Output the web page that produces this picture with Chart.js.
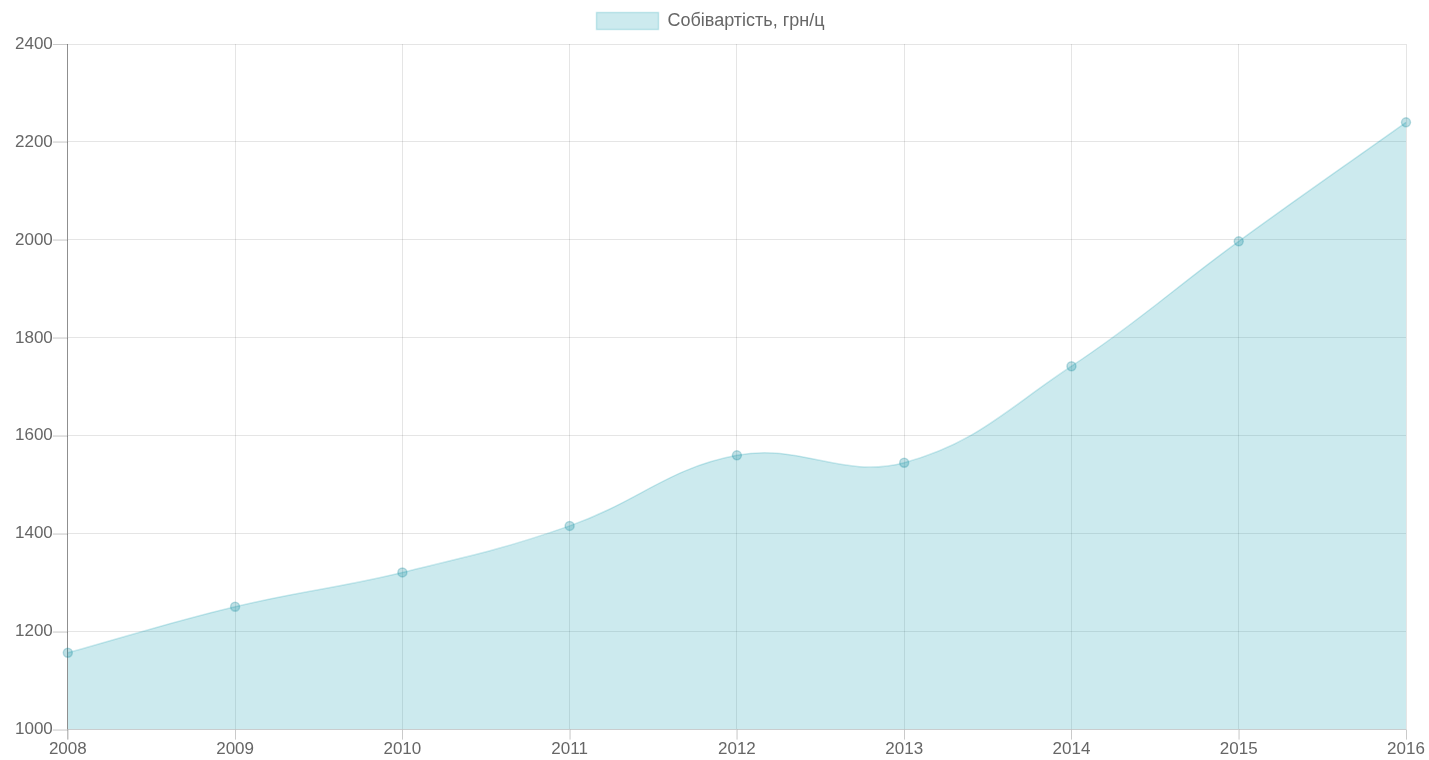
<!DOCTYPE html>
<html>
<head>
<meta charset="utf-8">
<script src="https://cdn.jsdelivr.net/npm/chart.js@4/dist/chart.umd.min.js"></script>
<style>
  html, body { margin: 0; padding: 0; background: #fff; }
  .chart-box { width: 1429px; height: 760px; }
</style>
</head>
<body>
<div class="chart-box"><canvas id="costChart"></canvas></div>
<script>
const years = ["2008", "2009", "2010", "2011", "2012", "2013", "2014", "2015", "2016"];
const costValues = [1157, 1251, 1321, 1416, 1560, 1545, 1742, 1997, 2240];
const seriesLabel = "Собівартість, грн/ц";

Chart.defaults.font.family = "'Helvetica Neue', Helvetica, Arial, 'Liberation Sans', sans-serif";
Chart.defaults.font.size = 17;
Chart.defaults.color = "#666";

// a little extra space under the legend
const legendMargin = {
  id: "legendMargin",
  beforeInit(chart) {
    const fit = chart.legend.fit;
    chart.legend.fit = function () {
      fit.bind(chart.legend)();
      this.height += 4;
    };
  },
};

// short tick marks outside the plot area, next to the labels
const tickMarks = {
  id: "tickMarks",
  afterDraw(chart) {
    const { ctx, chartArea, scales } = chart;
    ctx.save();
    ctx.strokeStyle = "rgba(0,0,0,0.12)";
    ctx.lineWidth = 1;
    ctx.beginPath();
    scales.x.ticks.forEach((t, i) => {
      const px = Math.round(scales.x.getPixelForTick(i)) + 0.5;
      ctx.moveTo(px, chartArea.bottom);
      ctx.lineTo(px, chartArea.bottom + 10);
    });
    scales.y.ticks.forEach((t, i) => {
      const py = Math.round(scales.y.getPixelForTick(i)) + 0.5;
      ctx.moveTo(chartArea.left - 15, py);
      ctx.lineTo(chartArea.left, py);
    });
    ctx.stroke();
    ctx.restore();
  },
};

const ctx = document.getElementById("costChart").getContext("2d");
const chart = new Chart(ctx, {
  type: "line",
  data: {
    labels: years,
    datasets: [
      {
        label: seriesLabel,
        data: costValues,
        backgroundColor: "rgba(0, 150, 170, 0.2)",
        borderColor: "rgba(0, 150, 170, 0.2)",
        borderWidth: 1.5,
        pointRadius: 4.5,
        pointBackgroundColor: "rgba(0, 130, 150, 0.25)",
        pointBorderColor: "rgba(0, 130, 150, 0.25)",
        pointBorderWidth: 1.5,
        fill: true,
        tension: 0.4,
      },
    ],
  },
  options: {
    responsive: true,
    maintainAspectRatio: false,
    animation: false,
    layout: {
      padding: { left: 15, right: 23, top: 7, bottom: 0 },
    },
    plugins: {
      legend: {
        labels: {
          boxWidth: 62,
          boxHeight: 17,
          padding: 5,
          font: { size: 18 },
        },
      },
      tooltip: { enabled: false },
    },
    scales: {
      x: {
        offset: false,
        grid: {
          color: (c) => (c.index === 0 ? "rgba(0,0,0,0.25)" : "rgba(0,0,0,0.1)"),
          tickLength: 10,
        },
        border: { color: "rgba(0,0,0,0.1)" },
        ticks: { padding: 0, maxRotation: 0 },
      },
      y: {
        min: 1000,
        max: 2400,
        grid: {
          color: "rgba(0,0,0,0.1)",
          tickLength: 15,
        },
        border: { color: "rgba(0,0,0,0.25)" },
        ticks: {
          stepSize: 200,
          padding: 0,
          callback: (v) => String(v),
        },
      },
    },
  },
  plugins: [legendMargin, tickMarks],
});
</script>
</body>
</html>
